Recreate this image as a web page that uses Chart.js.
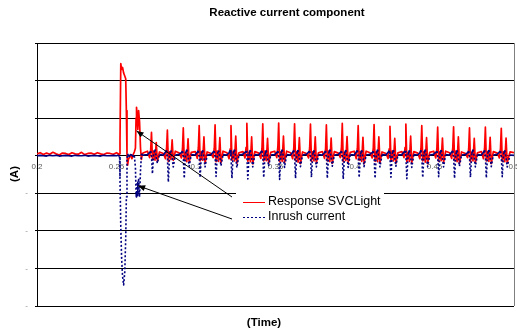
<!DOCTYPE html>
<html>
<head>
<meta charset="utf-8">
<script src="https://cdn.jsdelivr.net/npm/chart.js@4"></script>
<style>
  html, body { margin: 0; padding: 0; background: #fff; }
  canvas { display: block; }
</style>
</head>
<body>
<canvas id="chart" width="517" height="332"></canvas>
<script>
// sample times (s), shared by both traces
const time = [
  0.2, 0.202, 0.204, 0.206, 0.208, 0.21, 0.212, 0.214, 0.216, 0.218, 0.22, 0.222, 0.224,
  0.226, 0.228, 0.23, 0.232, 0.234, 0.236, 0.238, 0.24, 0.242, 0.244, 0.246, 0.248, 0.25,
  0.2508, 0.2515, 0.2519, 0.2522, 0.2527, 0.2532, 0.2538, 0.2545, 0.2552, 0.2558, 0.2562, 0.2566, 0.257, 0.2575,
  0.258, 0.2588, 0.2597, 0.2605, 0.2612, 0.2619, 0.2623, 0.2626, 0.263, 0.2634, 0.2639, 0.2645, 0.2651, 0.2657, 0.2662,
  0.267, 0.2695, 0.2708, 0.2715, 0.272, 0.2726, 0.2734, 0.2742, 0.275, 0.2757,
  0.277, 0.2795, 0.2808, 0.2815, 0.282, 0.2826, 0.2834, 0.2842, 0.285, 0.2857,
  0.287, 0.2895, 0.2908, 0.2915, 0.292, 0.2926, 0.2934, 0.2942, 0.295, 0.2957,
  0.297, 0.2995, 0.3008, 0.3015, 0.302, 0.3026, 0.3034, 0.3042, 0.305, 0.3057,
  0.307, 0.3095, 0.3108, 0.3115, 0.312, 0.3126, 0.3134, 0.3142, 0.315, 0.3157,
  0.317, 0.3195, 0.3208, 0.3215, 0.322, 0.3226, 0.3234, 0.3242, 0.325, 0.3257,
  0.327, 0.3295, 0.3308, 0.3315, 0.332, 0.3326, 0.3334, 0.3342, 0.335, 0.3357,
  0.337, 0.3395, 0.3408, 0.3415, 0.342, 0.3426, 0.3434, 0.3442, 0.345, 0.3457,
  0.347, 0.3495, 0.3508, 0.3515, 0.352, 0.3526, 0.3534, 0.3542, 0.355, 0.3557,
  0.357, 0.3595, 0.3608, 0.3615, 0.362, 0.3626, 0.3634, 0.3642, 0.365, 0.3657,
  0.367, 0.3695, 0.3708, 0.3715, 0.372, 0.3726, 0.3734, 0.3742, 0.375, 0.3757,
  0.377, 0.3795, 0.3808, 0.3815, 0.382, 0.3826, 0.3834, 0.3842, 0.385, 0.3857,
  0.387, 0.3895, 0.3908, 0.3915, 0.392, 0.3926, 0.3934, 0.3942, 0.395, 0.3957,
  0.397, 0.3995, 0.4008, 0.4015, 0.402, 0.4026, 0.4034, 0.4042, 0.405, 0.4057,
  0.407, 0.4095, 0.4108, 0.4115, 0.412, 0.4126, 0.4134, 0.4142, 0.415, 0.4157,
  0.417, 0.4195, 0.4208, 0.4215, 0.422, 0.4226, 0.4234, 0.4242, 0.425, 0.4257,
  0.427, 0.4295, 0.4308, 0.4315, 0.432, 0.4326, 0.4334, 0.4342, 0.435, 0.4357,
  0.437, 0.4395, 0.4408, 0.4415, 0.442, 0.4426, 0.4434, 0.4442, 0.445, 0.4457,
  0.447, 0.4495, 0.4508, 0.4515, 0.452, 0.4526, 0.4534, 0.4542, 0.455, 0.4557,
  0.457, 0.4595, 0.4608, 0.4615, 0.462, 0.4626, 0.4634, 0.4642, 0.465, 0.4657,
  0.467, 0.4695, 0.4708, 0.4715, 0.472, 0.4726, 0.4734, 0.4742, 0.475, 0.4757,
  0.477, 0.4795, 0.4808, 0.4815, 0.482, 0.4826, 0.4834, 0.4842, 0.485, 0.4857,
  0.487, 0.4895, 0.4908, 0.4915, 0.492, 0.4926, 0.4934, 0.4942, 0.495, 0.4957,
  0.4975, 0.5
];

const responseSVCLight = [
  0.05, 0.08, 0.03, 0.07, 0.04, 0.09, 0.05, 0.02, 0.07, 0.06, 0.03, 0.08, 0.05,
  0.04, 0.09, 0.03, 0.06, 0.07, 0.04, 0.08, 0.05, 0.03, 0.07, 0.06, 0.04, 0.08,
  0.06, 0.03, 0.05, 0.4, 2.45, 2.3, 2.35, 2.2, 2.12, 2.05, 1.2, 0.05, -0.25, -0.1,
  -0.05, 0.02, -0.08, 0.03, 0.1, 0.2, 1.0, 1.29, 1.05, 0.7, 1.2, 0.9, 0.2, -0.1, 0.05,
  0.08, 0.12, -0.05, 0.15, 0.62, -0.1, 0.12, -0.12, 0.35, -0.15,
  0.1, 0.06, -0.08, 0.2, 0.68, -0.15, 0.1, -0.1, 0.42, -0.12,
  0.12, 0.07, -0.06, 0.18, 0.74, -0.12, 0.08, -0.16, 0.45, -0.18,
  0.09, 0.11, -0.07, 0.22, 0.8, -0.14, 0.1, -0.12, 0.5, -0.2,
  0.1, 0.06, -0.05, 0.2, 0.82, -0.16, 0.12, -0.15, 0.48, -0.18,
  0.12, 0.08, -0.08, 0.18, 0.8, -0.12, 0.1, -0.14, 0.52, -0.2,
  0.08, 0.11, -0.06, 0.22, 0.86, -0.15, 0.09, -0.16, 0.5, -0.22,
  0.11, 0.07, -0.07, 0.2, 0.85, -0.14, 0.12, -0.13, 0.46, -0.2,
  0.09, 0.12, -0.05, 0.24, 0.87, -0.16, 0.1, -0.15, 0.52, -0.18,
  0.12, 0.08, -0.08, 0.2, 0.85, -0.13, 0.11, -0.17, 0.48, -0.21,
  0.1, 0.06, -0.06, 0.22, 0.84, -0.15, 0.1, -0.14, 0.5, -0.19,
  0.08, 0.11, -0.07, 0.19, 0.82, -0.14, 0.12, -0.16, 0.47, -0.2,
  0.11, 0.07, -0.05, 0.23, 0.86, -0.16, 0.09, -0.13, 0.51, -0.18,
  0.09, 0.12, -0.08, 0.2, 0.8, -0.12, 0.11, -0.15, 0.49, -0.21,
  0.12, 0.08, -0.06, 0.21, 0.83, -0.15, 0.1, -0.16, 0.5, -0.19,
  0.1, 0.06, -0.07, 0.18, 0.78, -0.13, 0.12, -0.14, 0.46, -0.2,
  0.08, 0.11, -0.05, 0.22, 0.84, -0.16, 0.09, -0.15, 0.52, -0.18,
  0.11, 0.07, -0.08, 0.2, 0.8, -0.14, 0.11, -0.17, 0.48, -0.21,
  0.09, 0.12, -0.06, 0.19, 0.76, -0.15, 0.1, -0.13, 0.47, -0.19,
  0.12, 0.08, -0.07, 0.21, 0.77, -0.13, 0.12, -0.16, 0.5, -0.2,
  0.1, 0.06, -0.05, 0.18, 0.74, -0.16, 0.09, -0.14, 0.46, -0.18,
  0.08, 0.11, -0.08, 0.2, 0.76, -0.14, 0.11, -0.15, 0.49, -0.21,
  0.11, 0.07, -0.06, 0.19, 0.73, -0.15, 0.1, -0.16, 0.47, -0.19,
  0.1, 0.08
];

const inrushCurrent = [
  0, 0.01, 0, -0.01, 0.01, 0, 0.01, -0.01, 0, 0.01, 0, -0.01, 0.01,
  0, 0, 0.01, -0.01, 0, 0.01, 0, -0.01, 0.01, 0, 0, 0.01, 0,
  0.01, 0, -0.02, -0.6, -1.9, -2.7, -3.2, -3.44, -3.1, -2.2, -1.1, -0.1, 0.05, 0,
  -0.02, 0.03, 0.02, -0.02, 0, -0.3, -1.0, -1.1, -0.7, -1.05, -0.6, -1.1, -0.4, 0.05, 0.02,
  0.02, 0.03, 0.08, 0.12, 0.0, -0.48, 0.05, 0.18, -0.05, -0.2,
  0.03, 0.02, 0.1, 0.14, -0.02, -0.7, 0.04, 0.15, -0.06, -0.3,
  0.02, 0.04, 0.08, 0.12, 0.0, -0.6, 0.06, 0.16, -0.04, -0.28,
  0.03, 0.02, 0.09, 0.13, -0.01, -0.58, 0.05, 0.14, -0.06, -0.3,
  0.02, 0.03, 0.1, 0.12, 0.0, -0.55, 0.04, 0.15, -0.05, -0.27,
  0.03, 0.02, 0.08, 0.14, -0.02, -0.6, 0.06, 0.16, -0.04, -0.32,
  0.02, 0.04, 0.09, 0.12, 0.0, -0.62, 0.05, 0.15, -0.06, -0.3,
  0.03, 0.02, 0.1, 0.13, -0.01, -0.58, 0.04, 0.14, -0.05, -0.28,
  0.02, 0.03, 0.08, 0.12, 0.0, -0.63, 0.06, 0.16, -0.04, -0.31,
  0.03, 0.02, 0.09, 0.14, -0.02, -0.6, 0.05, 0.15, -0.06, -0.29,
  0.02, 0.04, 0.1, 0.12, 0.0, -0.57, 0.04, 0.14, -0.05, -0.3,
  0.03, 0.02, 0.08, 0.13, -0.01, -0.6, 0.06, 0.16, -0.04, -0.28,
  0.02, 0.03, 0.09, 0.12, 0.0, -0.62, 0.05, 0.15, -0.06, -0.31,
  0.03, 0.02, 0.1, 0.14, -0.02, -0.58, 0.04, 0.14, -0.05, -0.29,
  0.02, 0.04, 0.08, 0.12, 0.0, -0.6, 0.06, 0.16, -0.04, -0.3,
  0.03, 0.02, 0.09, 0.13, -0.01, -0.57, 0.05, 0.15, -0.06, -0.28,
  0.02, 0.03, 0.1, 0.12, 0.0, -0.61, 0.04, 0.14, -0.05, -0.31,
  0.03, 0.02, 0.08, 0.14, -0.02, -0.58, 0.06, 0.16, -0.04, -0.29,
  0.02, 0.04, 0.09, 0.12, 0.0, -0.56, 0.05, 0.15, -0.06, -0.3,
  0.03, 0.02, 0.1, 0.13, -0.01, -0.6, 0.04, 0.14, -0.05, -0.28,
  0.02, 0.03, 0.08, 0.12, 0.0, -0.57, 0.06, 0.16, -0.04, -0.3,
  0.03, 0.02, 0.09, 0.14, -0.02, -0.59, 0.05, 0.15, -0.06, -0.29,
  0.02, 0.04, 0.1, 0.12, 0.0, -0.56, 0.04, 0.14, -0.05, -0.3,
  0.02, 0.01
];

const xTicks = [0.2, 0.25, 0.3, 0.35, 0.4, 0.45, 0.5];
const yTicks = [-4, -3, -2, -1, 0, 1, 2, 3];

// the two arrows point at these (time, value) spots
const arrowTargets = [[0.2626, 0.66], [0.2636, -0.8]];

const toPoints = ys => time.map((t, i) => ({ x: t, y: ys[i] }));

// titles, legend box and arrows, drawn on top like in the Excel original
const decorations = {
  id: 'decorations',
  afterDraw(chart) {
    const { ctx, chartArea: a, scales } = chart;
    ctx.save();

    // right edge of the plot area
    ctx.strokeStyle = '#808080';
    ctx.lineWidth = 1;
    ctx.beginPath();
    ctx.moveTo(Math.round(a.right) + 0.5, a.top);
    ctx.lineTo(Math.round(a.right) + 0.5, a.bottom);
    ctx.stroke();

    ctx.fillStyle = '#000';
    ctx.font = 'bold 11.5px Arial, "Liberation Sans"';
    ctx.textAlign = 'center';
    ctx.textBaseline = 'middle';
    ctx.fillText('Reactive current component', 287, 13);
    ctx.fillText('(Time)', 264, 323);
    ctx.save();
    ctx.translate(15, 174);
    ctx.rotate(-Math.PI / 2);
    ctx.fillText('(A)', 0, 0);
    ctx.restore();

    // arrows from the legend to the traces
    const tails = [[232, 197], [232, 219]];
    ctx.strokeStyle = '#000';
    ctx.fillStyle = '#000';
    arrowTargets.forEach(([t, v], i) => {
      const hx = scales.x.getPixelForValue(t);
      const hy = scales.y.getPixelForValue(v);
      const [tx, ty] = tails[i];
      const ang = Math.atan2(hy - ty, hx - tx);
      ctx.beginPath();
      ctx.moveTo(tx, ty);
      ctx.lineTo(hx, hy);
      ctx.stroke();
      ctx.beginPath();
      ctx.moveTo(hx, hy);
      ctx.lineTo(hx - 7 * Math.cos(ang) + 3 * Math.sin(ang), hy - 7 * Math.sin(ang) - 3 * Math.cos(ang));
      ctx.lineTo(hx - 7 * Math.cos(ang) - 3 * Math.sin(ang), hy - 7 * Math.sin(ang) + 3 * Math.cos(ang));
      ctx.closePath();
      ctx.fill();
    });

    // legend
    ctx.fillStyle = '#fff';
    ctx.fillRect(236, 187, 148, 39);
    ctx.font = '12.5px Arial, "Liberation Sans"';
    ctx.textAlign = 'left';
    const rows = [202, 217];
    chart.data.datasets.forEach((ds, i) => {
      const y = rows[i] + 0.5;
      ctx.strokeStyle = ds.borderColor;
      ctx.lineWidth = 1;
      ctx.setLineDash(i === 1 ? [2, 2] : []);
      ctx.beginPath();
      ctx.moveTo(243, y);
      ctx.lineTo(265, y);
      ctx.stroke();
      ctx.setLineDash([]);
      ctx.fillStyle = '#000';
      ctx.fillText(ds.label, 268, rows[i]);
    });
    ctx.restore();
  }
};

new Chart(document.getElementById('chart'), {
  type: 'line',
  data: {
    datasets: [
      {
        label: 'Response SVCLight',
        data: toPoints(responseSVCLight),
        borderColor: '#ff0000',
        borderWidth: 1.7,
        order: 1
      },
      {
        label: 'Inrush current',
        data: toPoints(inrushCurrent),
        borderColor: '#000080',
        borderWidth: 1.6,
        order: 0,
        // Excel restarts the dot pattern on every short segment, so flat parts look solid
        segment: {
          borderDash: ctx => Math.abs(ctx.p1.y - ctx.p0.y) > 4 ? [2, 2] : undefined
        }
      }
    ]
  },
  options: {
    responsive: false,
    animation: false,
    devicePixelRatio: 1,
    layout: { padding: { top: 43, right: 3, bottom: 26, left: 0 } },
    elements: {
      point: { radius: 0 },
      line: { tension: 0, borderJoinStyle: 'round' }
    },
    plugins: {
      legend: { display: false },
      title: { display: false },
      tooltip: { enabled: false }
    },
    scales: {
      x: {
        type: 'linear',
        min: 0.2,
        max: 0.5,
        position: { y: 0 },
        afterBuildTicks: s => { s.ticks = xTicks.map(v => ({ value: v })); },
        afterFit: s => { s.paddingLeft = 0; s.paddingRight = 0; },
        grid: { display: false, drawTicks: false },
        border: { display: false },
        ticks: {
          autoSkip: false,
          maxRotation: 0,
          padding: 6,
          color: '#595959',
          font: { family: 'Arial', size: 8 },
          callback: v => String(v)
        }
      },
      y: {
        min: -4,
        max: 3,
        afterBuildTicks: s => { s.ticks = yTicks.map(v => ({ value: v })); },
        afterFit: s => { s.width = 37; s.paddingTop = 0; s.paddingBottom = 0; },
        grid: { color: '#000', lineWidth: 1, tickLength: 2, tickColor: '#000' },
        border: { color: '#000', width: 1 },
        ticks: {
          padding: 7,
          color: '#8c8c8c',
          font: { family: 'Arial', size: 8 },
          callback: v => (v < 0 ? '-' : '')
        }
      }
    }
  },
  plugins: [decorations]
});
</script>
</body>
</html>
